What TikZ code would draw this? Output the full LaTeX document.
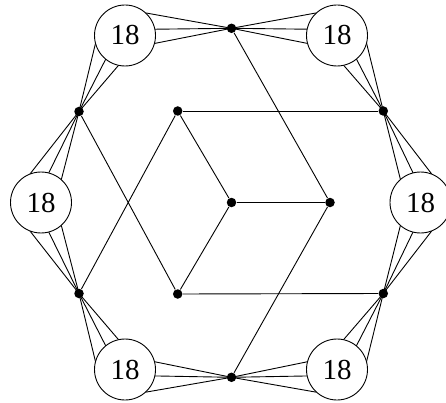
\documentclass[tikz,border=0pt]{standalone}
\usepackage{fontspec}
\setmainfont{Liberation Serif}
\usetikzlibrary{calc}
\newcommand\fanlines[3]{%
  \foreach \a in {44,8,-19} {%
    \pgfmathsetmacro\ang{#3*\a}%
    \draw (#2.center) -- ($(#1)!30.5pt!\ang:(#2)$);%
  }%
}
\begin{document}
\begin{tikzpicture}[x=1pt,y=-1pt,line width=0.9pt,
  circ/.style={circle,draw,fill=white,minimum size=61pt,inner sep=0pt,font=\fontsize{29}{29}\selectfont},
  dot/.style={circle,fill=black,inner sep=0pt,minimum size=9.5pt}]
\useasboundingbox (0,0) rectangle (446,403);
\clip (0,0) rectangle (446,403);
% circle centers
\coordinate (cTL) at (125,35.5);
\coordinate (cTR) at (337,35.5);
\coordinate (cR) at (420.5,202.5);
\coordinate (cBR) at (337,369.5);
\coordinate (cBL) at (125,369.5);
\coordinate (cL) at (41,202.5);
% outer dots
\node[dot] (T) at (231.5,28.3) {};
\node[dot] (UR) at (383.3,111) {};
\node[dot] (LR) at (383.3,293.5) {};
\node[dot] (Bo) at (231.5,377.3) {};
\node[dot] (LL) at (79,293.5) {};
\node[dot] (UL) at (79,111.5) {};
% inner dots
\node[dot] (A) at (177.7,111) {};
\node[dot] (B) at (177.7,294) {};
\node[dot] (C) at (231.5,202.5) {};
\node[dot] (D) at (330,202.5) {};
% inner edges
\draw (A) -- (UR);
\draw (B) -- (LR);
\draw (C) -- (D);
\draw (C) -- (A);
\draw (C) -- (B);
\draw (A) -- (LL);
\draw (UL) -- (B);
\draw (T) -- (D);
\draw (Bo) -- (D);
% fans: clockwise neighbour sign +1, counterclockwise neighbour sign -1
\fanlines{cTL}{T}{1}
\fanlines{cTL}{UL}{-1}
\fanlines{cTR}{UR}{1}
\fanlines{cTR}{T}{-1}
\fanlines{cR}{LR}{1}
\fanlines{cR}{UR}{-1}
\fanlines{cBR}{Bo}{1}
\fanlines{cBR}{LR}{-1}
\fanlines{cBL}{LL}{1}
\fanlines{cBL}{Bo}{-1}
\fanlines{cL}{UL}{1}
\fanlines{cL}{LL}{-1}
% circles
\node[circ] (nTL) at (cTL) {18};
\node[circ] (nTR) at (cTR) {18};
\node[circ] (nR) at (cR) {18};
\node[circ] (nBR) at (cBR) {18};
\node[circ] (nBL) at (cBL) {18};
\node[circ] (nL) at (cL) {18};
\end{tikzpicture}
\end{document}
